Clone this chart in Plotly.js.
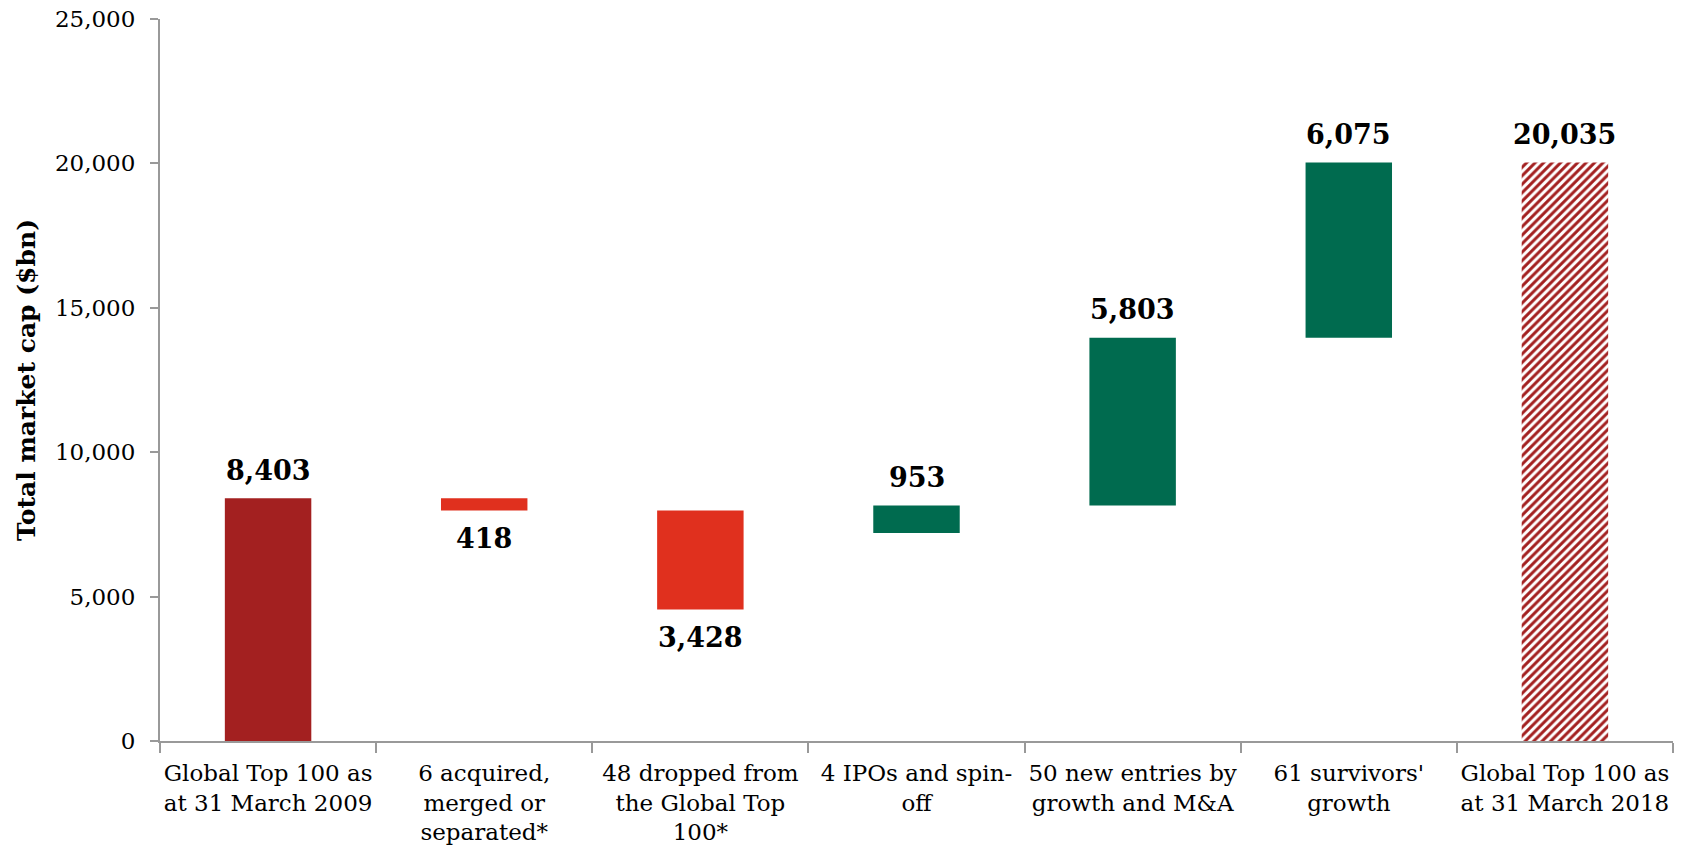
<!DOCTYPE html>
<html>
<head>
<meta charset="utf-8">
<script src="https://cdn.plot.ly/plotly-3.0.1.min.js"></script>
<style>html,body{margin:0;padding:0;background:#fff;}#chart{width:1686px;height:847px;}</style>
</head>
<body>
<div id="chart"></div>
<script>
// Categories (axis labels)
const categories = [
  "Global Top 100 as<br>at 31 March 2009",
  "6 acquired,<br>merged or<br>separated*",
  "48 dropped from<br>the Global Top<br>100*",
  "4 IPOs and spin-<br>off",
  "50 new entries by<br>growth and M&A",
  "61 survivors'<br>growth",
  "Global Top 100 as<br>at 31 March 2018"
];
// Market cap ($bn)
const startTotal = 8403;
const decreases = [418, 3428];
const increases = [953, 5803, 6075];
const endTotal = 20035;

const fmt = v => v.toLocaleString('en-US');

// Floating bars: decreases run forward from the start total,
// increases run backward from the end total (as in the source chart)
const xs = [], values = [], bases = [], colors = [], labelY = [], labelSide = [], labels = [];
xs.push(categories[0]); values.push(startTotal); bases.push(0); colors.push('#A32020');
labelY.push(startTotal); labelSide.push(1); labels.push(fmt(startTotal));
let level = startTotal;
decreases.forEach((d, i) => {
  xs.push(categories[1 + i]); values.push(-d); bases.push(level); colors.push('#E0301E');
  level -= d; labelY.push(level); labelSide.push(-1); labels.push(fmt(d));
});
let lvl = endTotal - increases.reduce((a, b) => a + b, 0);
increases.forEach((d, i) => {
  xs.push(categories[3 + i]); values.push(d); bases.push(lvl); colors.push('#006B4F');
  lvl += d; labelY.push(lvl); labelSide.push(1); labels.push(fmt(d));
});
const lastCat = categories[categories.length - 1];
labelY.push(endTotal); labelSide.push(1); labels.push(fmt(endTotal));

const bars = {
  type: 'bar', x: xs, y: values, base: bases, width: 0.4,
  marker: {color: colors, line: {width: 0}}, hoverinfo: 'skip'
};
const totalBar = {
  type: 'bar', x: [lastCat], y: [endTotal], base: [0], width: 0.4,
  marker: {color: '#FFFFFF', line: {width: 0},
    pattern: {shape: '/', fgcolor: '#A32020', bgcolor: '#FFFFFF', size: 6, solidity: 0.5, fillmode: 'replace'}},
  hoverinfo: 'skip'
};

const annotations = labels.map((t, i) => ({
  x: categories[i], y: labelY[i], xref: 'x', yref: 'y',
  text: t, showarrow: false, yanchor: 'middle', yshift: labelSide[i] * 28,
  font: {family: 'DejaVu Serif', size: 27, color: '#000', weight: 'bold'}
}));

const layout = {
  width: 1686, height: 847,
  margin: {l: 160, r: 13, t: 19, b: 106},
  paper_bgcolor: '#fff', plot_bgcolor: '#fff',
  showlegend: false, barmode: 'overlay',
  annotations: annotations,
  xaxis: {
    type: 'category', categoryorder: 'array', categoryarray: categories,
    showline: true, linecolor: '#999999', linewidth: 2,
    ticks: 'outside', tickson: 'boundaries', ticklen: 10, tickcolor: '#999999', tickwidth: 2,
    tickfont: {family: 'DejaVu Serif', size: 23, color: '#000'},
    tickangle: 0,
    ticklabelstandoff: 10,
    showgrid: false, zeroline: false, automargin: false
  },
  yaxis: {
    range: [0, 25000], tickvals: [0, 5000, 10000, 15000, 20000, 25000], tickformat: ',d',
    showline: true, linecolor: '#999999', linewidth: 2,
    ticks: 'outside', ticklen: 8, tickcolor: '#999999', tickwidth: 2,
    tickfont: {family: 'DejaVu Serif', size: 23, color: '#000'},
    ticklabelstandoff: 10,
    showgrid: false, zeroline: false, automargin: false,
    title: {text: 'Total market cap ($bn)', font: {family: 'DejaVu Serif', size: 25, color: '#000', weight: 'bold'}, standoff: 12}
  },
  bargap: 0.6
};

Plotly.newPlot('chart', [bars, totalBar], layout, {displayModeBar: false, staticPlot: true});
</script>
</body>
</html>
